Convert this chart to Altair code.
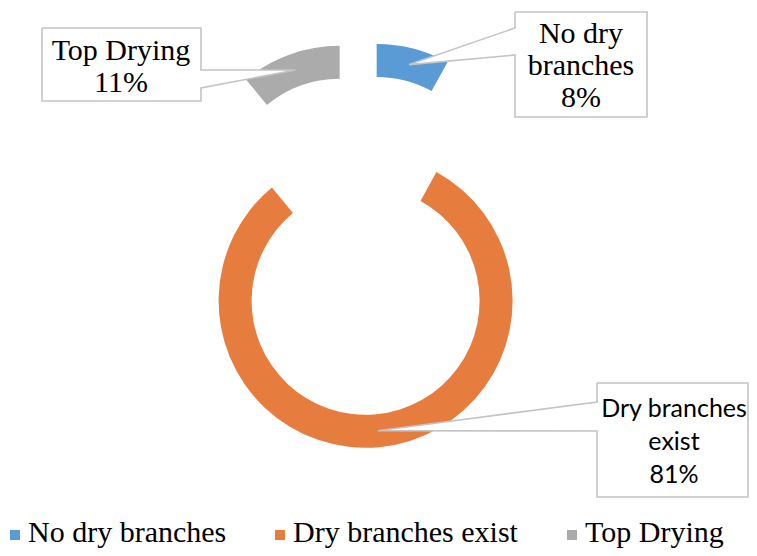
import altair as alt
import pandas as pd
import numpy as np

# ---------------- data ----------------
CATEGORIES = ["No dry branches", "Dry branches exist", "Top Drying"]
VALUES = [8, 81, 11]
LABEL_TEXT = ["No dry\nbranches", "Dry branches\nexist", "Top Drying"]

# ---------------- style / layout (chart pixels, origin at plot top-left) ----------------
COLORS = ["#5B9BD5", "#E67C3E", "#ABABAB"]
CENTER_X, CENTER_Y = 353, 244
R_OUT, R_IN = 147, 114
EXPLODE = [63, 49, 63]
LINE_COLOR = "#C4C4C4"
SERIF = "Liberation Serif"
SANS = "Lato"
# callout boxes (x0, y0, x1, y1, wedge side, wedge y1, wedge y2, text x, first baseline y, font)
BOXES = [
    (507, 4, 639, 109, "left", 20, 47, 573, 35, SERIF),
    (589, 375, 740, 489, "left", 394, 423, 666, 409, SANS),
    (34, 20, 193, 93, "right", 62, 80, 113, 52, SERIF),
]
# legend entries: square centre x, label x
LEGEND_POS = [(7, 20), (272, 285), (564, 577)]
LEGEND_SYMBOL_Y, LEGEND_TEXT_Y = 527, 534

df = pd.DataFrame({
    "idx": list(range(len(CATEGORIES))),
    "category": CATEGORIES,
    "value": VALUES,
    "label": LABEL_TEXT,
    "explode": EXPLODE,
    "font": [b[9] for b in BOXES],
    "tx": [b[7] for b in BOXES],
    "ty": [b[8] for b in BOXES],
    "lsx": [p[0] for p in LEGEND_POS],
    "ltx": [p[1] for p in LEGEND_POS],
})

# callout polygons (box + wedge pointing to slice centroid)
vals = np.array(VALUES, dtype=float)
cum = np.cumsum(vals)
mid = 2 * np.pi * (cum - vals / 2) / vals.sum()
r_mid = (R_OUT + R_IN) / 2
rows = []
for k, cat in enumerate(CATEGORIES):
    cx = CENTER_X + EXPLODE[k] * np.sin(mid[k])
    cy = CENTER_Y - EXPLODE[k] * np.cos(mid[k])
    tip = (cx + r_mid * np.sin(mid[k]), cy - r_mid * np.cos(mid[k]))
    x0, y0, x1, y1, side, w1, w2 = BOXES[k][:7]
    if side == "left":
        pts = [(x0, y0), (x1, y0), (x1, y1), (x0, y1), (x0, w2), tip, (x0, w1), (x0, y0)]
    else:
        pts = [(x0, y0), (x1, y0), (x1, w1), tip, (x1, w2), (x1, y1), (x0, y1), (x0, y0)]
    for i, (px, py) in enumerate(pts):
        rows.append({"category": cat, "i": i, "px": px, "py": py})
poly = pd.DataFrame(rows)

base = (
    alt.Chart(df)
    .transform_window(cum="sum(value)", sort=[alt.SortField("idx")], frame=[None, 0])
    .transform_joinaggregate(total="sum(value)")
    .transform_calculate(
        mid="2*PI*(datum.cum - datum.value/2)/datum.total",
    )
    .transform_calculate(
        cx=f"{CENTER_X} + datum.explode*sin(datum.mid)",
        cy=f"{CENTER_Y} - datum.explode*cos(datum.mid)",
        txt="datum.label + '\\n' + round(100*datum.value/datum.total) + '%'",
    )
)

color = alt.Color(
    "category:N",
    scale=alt.Scale(domain=CATEGORIES, range=COLORS),
    legend=None,
)

arcs = base.mark_arc(outerRadius=R_OUT, innerRadius=R_IN, strokeWidth=0).encode(
    theta=alt.Theta("value:Q", stack=True),
    order=alt.Order("idx:Q"),
    x=alt.X("cx:Q", scale=None),
    y=alt.Y("cy:Q", scale=None),
    color=color,
)

callouts = (
    alt.Chart(poly)
    .mark_line(fill="white", stroke=LINE_COLOR, strokeWidth=1.6, interpolate="linear")
    .encode(
        x=alt.X("px:Q", scale=None),
        y=alt.Y("py:Q", scale=None),
        order=alt.Order("i:Q"),
        detail="category:N",
    )
)

serif_text = base.transform_filter(f"datum.font == '{SERIF}'").mark_text(
    font=SERIF, fontSize=30, lineHeight=32, align="center",
    baseline="alphabetic", color="#000000", lineBreak="\n",
).encode(x=alt.X("tx:Q", scale=None), y=alt.Y("ty:Q", scale=None), text="txt:N")

sans_text = base.transform_filter(f"datum.font == '{SANS}'").mark_text(
    font=SANS, fontSize=25, lineHeight=33, align="center",
    baseline="alphabetic", color="#000000", lineBreak="\n",
).encode(x=alt.X("tx:Q", scale=None), y=alt.Y("ty:Q", scale=None), text="txt:N")

legend_symbols = alt.Chart(df).mark_square(size=100, opacity=1).encode(
    x=alt.X("lsx:Q", scale=None),
    y=alt.value(LEGEND_SYMBOL_Y),
    color=color,
)
legend_labels = alt.Chart(df).mark_text(
    font=SERIF, fontSize=30, align="left", baseline="alphabetic", color="#000000"
).encode(
    x=alt.X("ltx:Q", scale=None),
    y=alt.value(LEGEND_TEXT_Y),
    text="category:N",
)

chart = (
    alt.layer(arcs, callouts, serif_text, sans_text, legend_symbols, legend_labels)
    .properties(width=741, height=540, autosize=alt.AutoSizeParams(type="none"),
                padding=0, background="white")
    .configure_view(stroke="transparent", strokeWidth=0)
)

chart.save("out.html", embed_options={"renderer": "svg", "actions": False})
